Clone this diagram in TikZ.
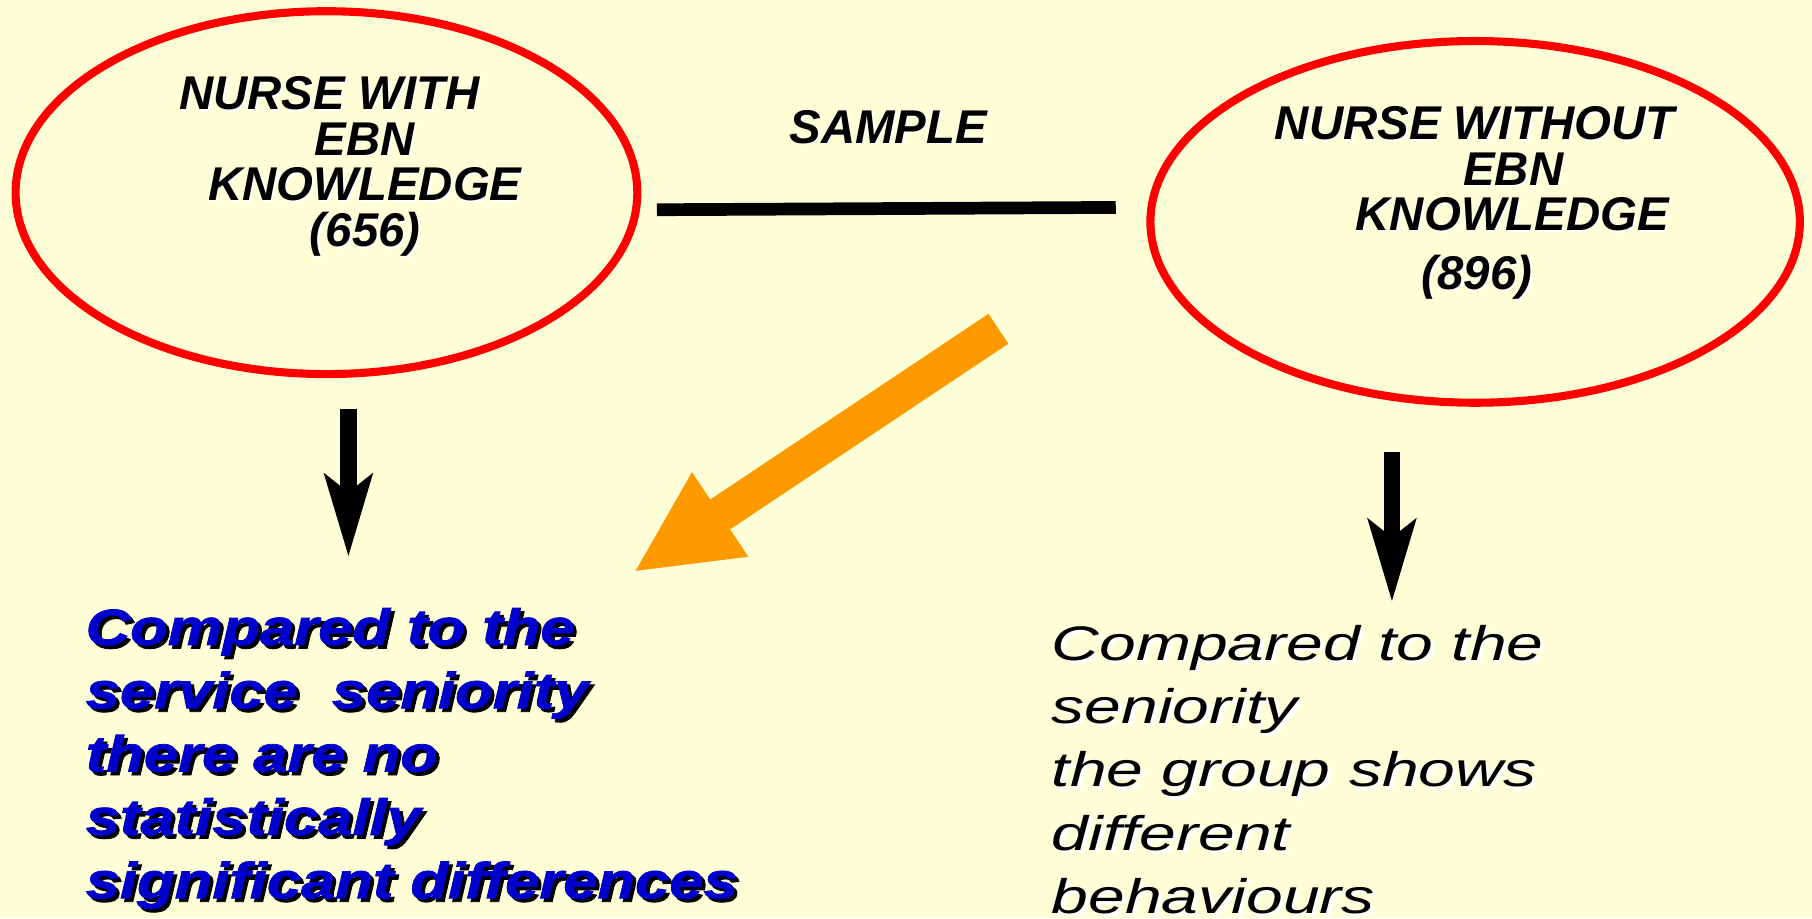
\documentclass[tikz,border=0pt]{standalone}
\usepackage{fontspec}
\setmainfont{Liberation Sans}
\newfontfamily\heavyfont[FakeStretch=1.21,FakeBold=1.5]{Liberation Sans}
\newfontfamily\widefont[FakeStretch=1.36]{Liberation Sans}
\usetikzlibrary{shapes.geometric,arrows.meta}
\definecolor{bgyellow}{RGB}{255,255,215}
\definecolor{ringred}{RGB}{255,0,0}
\definecolor{fatorange}{RGB}{255,153,0}
\definecolor{noteblue}{RGB}{0,0,204}
\newcommand{\dropshadow}[4][3pt]{\leavevmode\rlap{\kern#1\raisebox{-#1}{\color{#3}#4}}{\color{#2}#4}}
\newcommand{\blueline}[1]{\dropshadow{noteblue}{black}{#1}}
\newcommand{\plainline}[1]{\dropshadow{black}{white}{#1}}
\newcommand{\capline}[1]{\dropshadow[1.5pt]{black}{white}{#1}}

\begin{document}
\begin{tikzpicture}[x=1pt, y=-1pt,
        ring/.style={ellipse, draw=ringred, line width=7pt, inner sep=0pt},
        caps/.style={anchor=north west, inner sep=0pt, align=left, font=\fontsize{41}{39.5}\selectfont\bfseries\itshape},
        bluenote/.style={anchor=north west, inner sep=0pt, align=left, font=\fontsize{44}{54.8}\selectfont\heavyfont\bfseries\itshape},
        plainnote/.style={anchor=north west, inner sep=0pt, align=left, font=\fontsize{42}{54.8}\selectfont\widefont\itshape},
        bar/.style={draw=black, line width=11pt},
        down/.style={draw=black, line width=14pt, -{Stealth[length=72pt, width=43pt, inset=17pt, line width=0pt]}},
        fat/.style={draw=fatorange, line width=31pt, -{Triangle[length=88pt, width=88pt, line width=0pt]}}
    ]
    \fill[bgyellow] (0,0) rectangle (1568,794.4);
    \useasboundingbox (0,0) rectangle (1568,794.4);

    \node[ring, minimum width=538pt, minimum height=314pt] (with) at (282.5,166.7) {};
    \node[ring, minimum width=562pt, minimum height=313pt] (without) at (1276.5,192) {};

    \node[caps] (withtxt) at (155,66) {\capline{NURSE WITH}\\
        \hspace*{117pt}\capline{EBN}\\
        \hspace*{25pt}\capline{KNOWLEDGE}\\
        \hspace*{113pt}\capline{(656)}};
    \node[caps] (withouttxt) at (1103,92) {\capline{NURSE WITHOUT}\\
        \hspace*{163pt}\capline{EBN}\\
        \hspace*{70pt}\capline{KNOWLEDGE}\\[11pt]
        \hspace*{127pt}\capline{(896)}};
    \node[caps] (sample) at (683,95) {\capline{SAMPLE}};

    \draw[bar] ([shift={(13.5,14.8)}]with.east) -- ([shift={(-26.5,-12.5)}]without.west);

    \node[bluenote] (leftnote) at (74,526) {\blueline{Compared to the}\\
        \blueline{service~~seniority}\\
        \blueline{there are no}\\
        \blueline{statistically}\\
        \blueline{significant differences}};
    \node[plainnote] (rightnote) at (910,540.6) {\plainline{Compared to the}\\
        \plainline{seniority}\\
        \plainline{the group shows}\\
        \plainline{different}\\
        \plainline{behaviours}};

    \draw[down, shorten >=45pt] ([shift={(19,26.8)}]with.south) coordinate (wstart) -- (wstart |- leftnote.north);
    \draw[down, shorten >=20.6pt] ([shift={(-72,39)}]without.south) coordinate (ostart) -- (ostart |- rightnote.north);

    \coordinate (fatstart) at (864,284.5);
    \coordinate (fatend) at (550,494);
    \draw[fat] (fatstart) -- (fatend);
\end{tikzpicture}
\end{document}
